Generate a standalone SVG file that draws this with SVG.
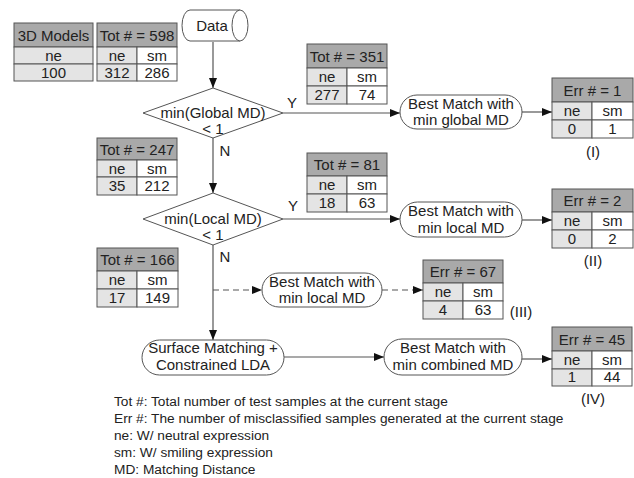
<svg xmlns="http://www.w3.org/2000/svg" width="634" height="478" viewBox="0 0 634 478">
<defs>
<marker id="arr" viewBox="0 0 10 8" refX="10" refY="4" markerWidth="10" markerHeight="8" markerUnits="userSpaceOnUse" orient="auto">
<path d="M0,0 L10,4 L0,8 Z" fill="#111"/>
</marker>
</defs>
<style>
text{font-family:"Liberation Sans",Arial,sans-serif;fill:#222;}
.t{font-size:15px;text-anchor:middle;}
.lg{font-size:13.7px;}
.h{fill:#a9a9a9;stroke:#555;stroke-width:1;}
.g{fill:#e4e4e4;stroke:#555;stroke-width:1;}
.w{fill:#ffffff;stroke:#555;stroke-width:1;}
.shape{fill:#fff;stroke:#555;stroke-width:1;}
.c{fill:none;stroke:#555;stroke-width:1.2;}
.d{stroke-dasharray:6,4;}
</style>
<rect width="634" height="478" fill="#fff"/>

<g id="connectors">
<line class="c" x1="213" y1="42" x2="213" y2="88" marker-end="url(#arr)"/>
<line class="c" x1="283" y1="113" x2="400" y2="113" marker-end="url(#arr)"/>
<line class="c" x1="522" y1="112" x2="552" y2="112" marker-end="url(#arr)"/>
<line class="c" x1="213" y1="138" x2="213" y2="193" marker-end="url(#arr)"/>
<line class="c" x1="283" y1="219" x2="400" y2="219" marker-end="url(#arr)"/>
<line class="c" x1="522" y1="220" x2="552" y2="220" marker-end="url(#arr)"/>
<line class="c" x1="213" y1="245" x2="213" y2="340" marker-end="url(#arr)"/>
<line class="c d" x1="213" y1="290" x2="262" y2="290" marker-end="url(#arr)"/>
<line class="c d" x1="382" y1="290" x2="423" y2="290" marker-end="url(#arr)"/>
<line class="c" x1="284" y1="357" x2="384" y2="357" marker-end="url(#arr)"/>
<line class="c" x1="522" y1="359" x2="552" y2="359" marker-end="url(#arr)"/>
<text class="t" x="292" y="108">Y</text>
<text class="t" x="225" y="156">N</text>
<text class="t" x="293" y="211">Y</text>
<text class="t" x="225" y="262">N</text>
</g>

<g id="data">
<path class="shape" d="M190,10 L240,10 A8,15.5 0 0 1 240,41 L190,41 A8,15.5 0 0 1 190,10 Z"/>
<path class="shape" d="M240,10 A8,15.5 0 0 0 240,41" fill="none"/>
<text class="t" x="212" y="31">Data</text>
</g>

<g id="models">
<rect class="h" x="14" y="23" width="79" height="24"/>
<rect class="g" x="14" y="47" width="79" height="17"/>
<rect class="g" x="14" y="64" width="79" height="17"/>
<text class="t" x="53.5" y="41">3D Models</text>
<text class="t" x="53.5" y="61">ne</text>
<text class="t" x="53.5" y="78">100</text>
</g>

<g id="tot598">
<rect class="h" x="97" y="23" width="80" height="24"/>
<rect class="g" x="97" y="47" width="40" height="17"/>
<rect class="w" x="137" y="47" width="40" height="17"/>
<rect class="g" x="97" y="64" width="40" height="17"/>
<rect class="w" x="137" y="64" width="40" height="17"/>
<text class="t" x="137" y="41">Tot # = 598</text>
<text class="t" x="117" y="61">ne</text>
<text class="t" x="157" y="61">sm</text>
<text class="t" x="117" y="78">312</text>
<text class="t" x="157" y="78">286</text>
</g>

<g id="dec1">
<path class="shape" d="M213,88 L283,113 L213,138 L143,113 Z"/>
<text class="t" x="213" y="118">min(Global MD)</text>
<text class="t" x="213" y="134">&lt; 1</text>
</g>

<g id="tot351">
<rect class="h" x="307" y="44" width="80" height="24"/>
<rect class="g" x="307" y="68" width="40" height="18"/>
<rect class="w" x="347" y="68" width="40" height="18"/>
<rect class="g" x="307" y="86" width="40" height="18"/>
<rect class="w" x="347" y="86" width="40" height="18"/>
<text class="t" x="347" y="62">Tot # = 351</text>
<text class="t" x="327" y="82">ne</text>
<text class="t" x="367" y="82">sm</text>
<text class="t" x="327" y="100">277</text>
<text class="t" x="367" y="100">74</text>
</g>

<g id="bm1">
<rect class="shape" x="400" y="95" width="122" height="34" rx="17" ry="17"/>
<text class="t" x="461" y="109">Best Match with</text>
<text class="t" x="461" y="125">min global MD</text>
</g>

<g id="err1">
<rect class="h" x="552" y="78" width="81" height="24"/>
<rect class="g" x="552" y="102" width="40" height="18"/>
<rect class="w" x="592" y="102" width="41" height="18"/>
<rect class="g" x="552" y="120" width="40" height="18"/>
<rect class="w" x="592" y="120" width="41" height="18"/>
<text class="t" x="592.5" y="96">Err # = 1</text>
<text class="t" x="572" y="116">ne</text>
<text class="t" x="612.5" y="116">sm</text>
<text class="t" x="572" y="134">0</text>
<text class="t" x="612.5" y="134">1</text>
<text class="t" x="593" y="157">(I)</text>
</g>

<g id="tot247">
<rect class="h" x="97" y="138" width="80" height="22"/>
<rect class="g" x="97" y="160" width="40" height="17"/>
<rect class="w" x="137" y="160" width="40" height="17"/>
<rect class="g" x="97" y="177" width="40" height="18"/>
<rect class="w" x="137" y="177" width="40" height="18"/>
<text class="t" x="137" y="155">Tot # = 247</text>
<text class="t" x="117" y="174">ne</text>
<text class="t" x="157" y="174">sm</text>
<text class="t" x="117" y="191">35</text>
<text class="t" x="157" y="191">212</text>
</g>

<g id="dec2">
<path class="shape" d="M213,193 L283,219 L213,245 L143,219 Z"/>
<text class="t" x="213" y="224">min(Local MD)</text>
<text class="t" x="213" y="240">&lt; 1</text>
</g>

<g id="tot81">
<rect class="h" x="307" y="153" width="80" height="23"/>
<rect class="g" x="307" y="176" width="40" height="18"/>
<rect class="w" x="347" y="176" width="40" height="18"/>
<rect class="g" x="307" y="194" width="40" height="18"/>
<rect class="w" x="347" y="194" width="40" height="18"/>
<text class="t" x="347" y="170">Tot # = 81</text>
<text class="t" x="327" y="190">ne</text>
<text class="t" x="367" y="190">sm</text>
<text class="t" x="327" y="208">18</text>
<text class="t" x="367" y="208">63</text>
</g>

<g id="bm2">
<rect class="shape" x="400" y="202" width="122" height="35" rx="17.5" ry="17.5"/>
<text class="t" x="461" y="216">Best Match with</text>
<text class="t" x="461" y="233">min local MD</text>
</g>

<g id="err2">
<rect class="h" x="552" y="189" width="81" height="23"/>
<rect class="g" x="552" y="212" width="40" height="18"/>
<rect class="w" x="592" y="212" width="41" height="18"/>
<rect class="g" x="552" y="230" width="40" height="18"/>
<rect class="w" x="592" y="230" width="41" height="18"/>
<text class="t" x="592.5" y="206">Err # = 2</text>
<text class="t" x="572" y="226">ne</text>
<text class="t" x="612.5" y="226">sm</text>
<text class="t" x="572" y="244">0</text>
<text class="t" x="612.5" y="244">2</text>
<text class="t" x="593" y="266">(II)</text>
</g>

<g id="tot166">
<rect class="h" x="97" y="248" width="81" height="23"/>
<rect class="g" x="97" y="271" width="40" height="18"/>
<rect class="w" x="137" y="271" width="41" height="18"/>
<rect class="g" x="97" y="289" width="40" height="18"/>
<rect class="w" x="137" y="289" width="41" height="18"/>
<text class="t" x="137.5" y="265">Tot # = 166</text>
<text class="t" x="117" y="285">ne</text>
<text class="t" x="157.5" y="285">sm</text>
<text class="t" x="117" y="303">17</text>
<text class="t" x="157.5" y="303">149</text>
</g>

<g id="bm3">
<rect class="shape" x="262" y="273" width="120" height="34" rx="17" ry="17"/>
<text class="t" x="322" y="287">Best Match with</text>
<text class="t" x="322" y="303">min local MD</text>
</g>

<g id="err67">
<rect class="h" x="423" y="260" width="80" height="23"/>
<rect class="g" x="423" y="283" width="40" height="18"/>
<rect class="w" x="463" y="283" width="40" height="18"/>
<rect class="g" x="423" y="301" width="40" height="18"/>
<rect class="w" x="463" y="301" width="40" height="18"/>
<text class="t" x="463" y="277">Err # = 67</text>
<text class="t" x="443" y="297">ne</text>
<text class="t" x="483" y="297">sm</text>
<text class="t" x="443" y="315">4</text>
<text class="t" x="483" y="315">63</text>
<text class="t" x="521" y="317">(III)</text>
</g>

<g id="surface">
<rect class="shape" x="142" y="340" width="142" height="35" rx="17.5" ry="17.5"/>
<text class="t" x="213" y="353">Surface Matching +</text>
<text class="t" x="213" y="370">Constrained LDA</text>
</g>

<g id="bm4">
<rect class="shape" x="384" y="339" width="138" height="36" rx="18" ry="18"/>
<text class="t" x="453" y="353">Best Match with</text>
<text class="t" x="453" y="370">min combined MD</text>
</g>

<g id="err45">
<rect class="h" x="552" y="327" width="80" height="24"/>
<rect class="g" x="552" y="351" width="40" height="18"/>
<rect class="w" x="592" y="351" width="40" height="18"/>
<rect class="g" x="552" y="369" width="40" height="17"/>
<rect class="w" x="592" y="369" width="40" height="17"/>
<text class="t" x="592" y="345">Err # = 45</text>
<text class="t" x="572" y="365">ne</text>
<text class="t" x="612" y="365">sm</text>
<text class="t" x="572" y="382">1</text>
<text class="t" x="612" y="382">44</text>
<text class="t" x="593" y="404">(IV)</text>
</g>

<g id="legend">
<text class="lg" x="114" y="406">Tot #: Total number of test samples at the current stage</text>
<text class="lg" x="114" y="423">Err #: The number of misclassified samples generated at the current stage</text>
<text class="lg" x="114" y="440">ne: W/ neutral expression</text>
<text class="lg" x="114" y="457">sm: W/ smiling expression</text>
<text class="lg" x="114" y="474">MD: Matching Distance</text>
</g>
</svg>
